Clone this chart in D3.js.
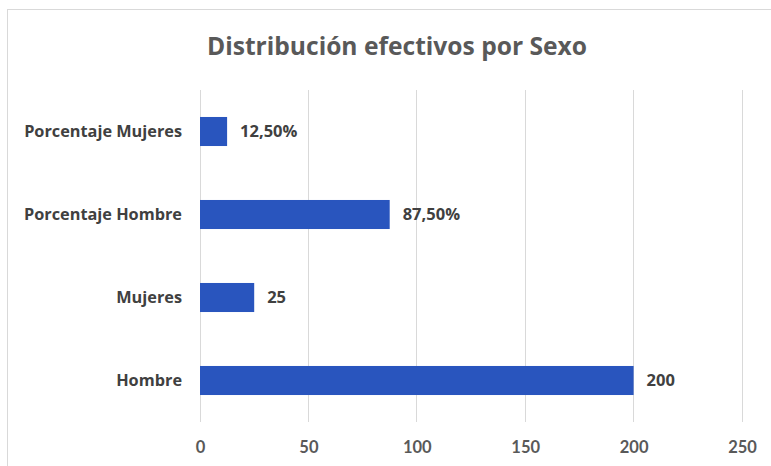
<!DOCTYPE html>
<html><head><meta charset="utf-8">
<script src="https://cdn.jsdelivr.net/npm/d3@7"></script>
<style>body{margin:0;background:#fff;}svg{display:block;}</style>
</head><body>
<svg id="c" width="771" height="466"></svg>
<script>
const categories = ["Porcentaje Mujeres", "Porcentaje Hombre", "Mujeres", "Hombre"];
const values = [12.5, 87.5, 25, 200];
const valueLabels = ["12,50%", "87,50%", "25", "200"];
const ticks = [0, 50, 100, 150, 200, 250];
const title = "Distribución efectivos por Sexo";

const svg = d3.select("#c");
const font = "'Open Sans', sans-serif";
const tickFont = "Lato, sans-serif";
svg.append("rect").attr("x", 7.5).attr("y", 9.5).attr("width", 780).attr("height", 480)
  .attr("fill", "#fff").attr("stroke", "#d9d9d9");

const x = d3.scaleLinear().domain([0, 250]).range([200, 742]);
const y = d3.scaleBand().domain(categories).range([90, 422]).paddingInner(0.65).paddingOuter(0.325);

svg.append("g").selectAll("line").data(ticks).join("line")
  .attr("x1", d => x(d)).attr("x2", d => x(d)).attr("y1", 90).attr("y2", 422)
  .attr("stroke", "#d9d9d9").attr("stroke-width", 1).attr("shape-rendering", "crispEdges");

svg.append("g").selectAll("rect").data(values).join("rect")
  .attr("x", x(0)).attr("y", (d, i) => y(categories[i]))
  .attr("width", d => x(d) - x(0)).attr("height", y.bandwidth())
  .attr("fill", "#2955be");

svg.append("g").selectAll("text").data(valueLabels).join("text")
  .attr("x", (d, i) => x(values[i]) + 13).attr("y", (d, i) => y(categories[i]) + y.bandwidth() / 2)
  .attr("dy", "0.35em").attr("font-family", font).attr("font-weight", "bold").attr("font-size", 16.5)
  .attr("fill", "#404040").text(d => d);

svg.append("g").selectAll("text").data(categories).join("text")
  .attr("x", 182).attr("y", d => y(d) + y.bandwidth() / 2).attr("dy", "0.35em")
  .attr("text-anchor", "end").attr("font-family", font).attr("font-weight", "bold").attr("font-size", 16.3)
  .attr("fill", "#404040").text(d => d);

const xAxis = svg.append("g").attr("transform", "translate(0,447)")
  .call(d3.axisBottom(x).tickValues(ticks).tickSize(0).tickPadding(0));
xAxis.select(".domain").remove();
xAxis.selectAll("text").attr("dy", "0.35em").attr("font-family", tickFont).attr("font-weight", "bold")
  .attr("font-size", 16.5).attr("fill", "#595959");

svg.append("text").attr("x", 397).attr("y", 55).attr("text-anchor", "middle")
  .attr("font-family", font).attr("font-weight", "bold").attr("font-size", 24.6)
  .attr("fill", "#595959").text(title);
</script>
</body></html>
